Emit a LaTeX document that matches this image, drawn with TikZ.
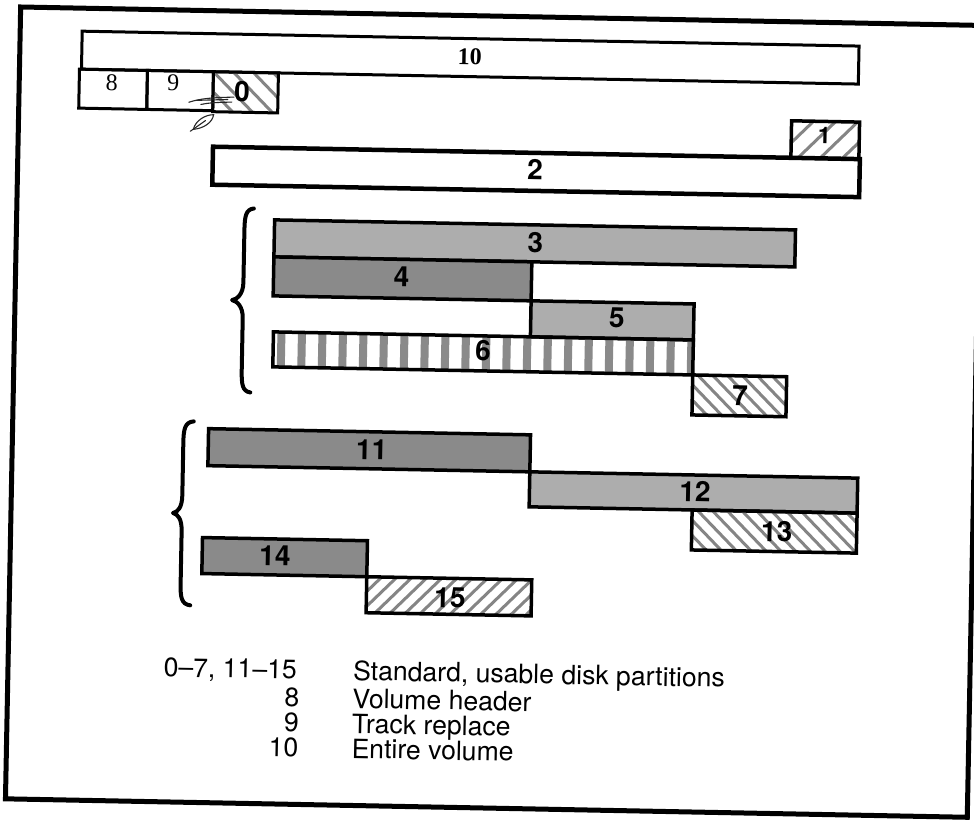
\documentclass[tikz,border=0pt]{standalone}
\usepackage{fontspec}
\newfontfamily\helv{TeX Gyre Heros}
\newfontfamily\tms{Liberation Serif}
\definecolor{lightdot}{gray}{0.68}
\definecolor{darkdot}{gray}{0.54}
\definecolor{hatchc}{gray}{0.52}
\newcommand{\hatchbs}[5]{%
  \begin{scope}
    \clip (#1,#2) rectangle (#3,#4);
    \foreach \i in {0,...,45}{
      \draw[hatchl] ({#1-(#4-#2)+\i*#5},#2) -- ++({#4-#2},{#4-#2});
    }
  \end{scope}}
\newcommand{\hatchsl}[5]{%
  \begin{scope}
    \clip (#1,#2) rectangle (#3,#4);
    \foreach \i in {0,...,45}{
      \draw[hatchl] ({#1-(#4-#2)+\i*#5},#4) -- ++({#4-#2},{#2-#4});
    }
  \end{scope}}
\newcommand{\bigbrace}[6]{%
  \draw[bracestyle] (#1,#4) .. controls ({#2+1},{#4+1}) and (#2,{#4+8}) .. (#2,{#4+22})
    -- (#2,{#5-18}) .. controls (#2,{#5-6}) and ({#3+5},{#5-1}) .. (#3,#5)
    .. controls ({#3+5},{#5+1}) and (#2,{#5+6}) .. (#2,{#5+18})
    -- (#2,{#6-22}) .. controls (#2,{#6-8}) and ({#2+1},{#6-1}) .. (#1,#6);}
\begin{document}
\begin{tikzpicture}[x=1pt,y=-1pt,
  barline/.style={draw=black, line width=3.5pt},
  thinbar/.style={draw=black, line width=3pt},
  lab/.style={font=\helv\bfseries\fontsize{28}{28}\selectfont, inner sep=0pt, transform shape},
  slab/.style={font=\tms\fontsize{24}{24}\selectfont, inner sep=0pt, transform shape},
  slabb/.style={font=\tms\bfseries\fontsize{24}{24}\selectfont, inner sep=0pt, transform shape},
  leg/.style={font=\helv\fontsize{26.6}{26.6}\selectfont, inner sep=0pt, transform shape},
  hatchl/.style={draw=hatchc, line width=3pt},
  scrib/.style={draw=black!85, line width=1.1pt, line cap=round},
  bracestyle/.style={draw=black, line width=4pt, line cap=round, line join=round}]
\useasboundingbox (0,0) rectangle (974,819);
\fill[white] (0,0) rectangle (974,819);
\begin{scope}[rotate around={-1.1:(487,410)}]
% frame
\draw[line width=5pt] (13,16) rectangle (975,808);
% bar 10
\draw[thinbar] (75,39) rectangle (852,77);
\node[slabb] (l10) at (463,57.5) {10};
% 8, 9, 0
\draw[thinbar] (73,77) rectangle (141,116);
\node[slab] (l8) at (105.5,90) {8};
\draw[thinbar] (141,77) rectangle (207,116);
\node[slab] (l9) at (167,89) {9};
\hatchbs{207}{77}{272}{117}{20}
\draw[thinbar] (207,77) rectangle (272,117);
\node[lab] (l0) at (236,96) {0};
% scribble
\draw[scrib] (183,108) .. controls (195,104) and (205,103) .. (228,102);
\draw[scrib] (190,106) -- (222,104.5);
\draw[scrib] (195,110) .. controls (205,108) .. (226,107);
\draw[scrib] (188,135) .. controls (190,126) and (200,120) .. (208,120) .. controls (207,128) and (198,134) .. (188,135);
\draw[scrib] (185,137) -- (200,126);
% bar 1
\hatchsl{786}{115}{854}{152}{22}
\draw[barline] (786,115) rectangle (854,152);
\node[lab,font=\helv\bfseries\fontsize{23}{23}\selectfont] (l1) at (819,129.5) {1};
% bar 2
\draw[line width=4.5pt] (208,152) rectangle (855,190);
\node[lab] (l2) at (530.5,169) {2};
% brace 1
\bigbrace{250}{241}{230}{213}{305}{397}
% bar 3
\fill[lightdot] (271,224) rectangle (792,261);
\draw[barline] (271,224) rectangle (792,261);
\node[lab] (l3) at (532,241.6) {3};
% bar 4
\fill[darkdot] (271,261) rectangle (529,300);
\draw[barline] (271,261) rectangle (529,300);
\node[lab] (l4) at (399,278.6) {4};
% bar 5
\fill[lightdot] (529,300) rectangle (692,336);
\draw[barline] (529,300) rectangle (692,336);
\node[lab] (l5) at (615,315.5) {5};
% bar 6
\begin{scope}
  \clip (272,336) rectangle (692,371);
  \foreach \i in {0,...,21}{ \fill[darkdot] ({276+\i*20.5},336) rectangle ++(8,35); }
\end{scope}
\draw[barline] (272,336) rectangle (692,371);
\node[lab] (l6) at (482,351) {6};
% bar 7
\hatchbs{692}{371}{786}{411}{15}
\draw[barline] (692,371) rectangle (786,411);
\node[lab] (l7) at (739.7,391) {7};
% brace 2
\bigbrace{194}{184}{175}{427}{519}{611}
% bar 11
\fill[darkdot] (209,434) rectangle (531,471);
\draw[barline] (209,434) rectangle (531,471);
\node[lab] (l11) at (372.5,452) {11};
% bar 12
\fill[lightdot] (531,471) rectangle (859,506);
\draw[barline] (531,471) rectangle (859,506);
\node[lab] (l12) at (696.6,487.7) {12};
% bar 13
\hatchbs{694}{506}{859}{546}{15}
\draw[barline] (694,506) rectangle (859,546);
\node[lab] (l13) at (779,526) {13};
% bar 14
\fill[darkdot] (205,543) rectangle (370,579);
\draw[barline] (205,543) rectangle (370,579);
\node[lab] (l14) at (277.8,560) {14};
% bar 15
\hatchsl{370}{579}{535}{615}{15}
\draw[barline] (370,579) rectangle (535,615);
\node[lab] (l15) at (453.6,598.7) {15};
% legend
\node[leg, anchor=base east] (k1) at (302,682.6) {0–7, 11–15};
\node[leg, anchor=base west] (d1) at (358,682.6) {Standard, usable disk partitions};
\node[leg, anchor=base east] (k2) at (305,710.6) {8};
\node[leg, anchor=base west] (d2) at (358,710.6) {Volume header};
\node[leg, anchor=base east] (k3) at (305,735.6) {9};
\node[leg, anchor=base west] (d3) at (358,735.6) {Track replace};
\node[leg, anchor=base east] (k4) at (305,760.6) {10};
\node[leg, anchor=base west] (d4) at (358,760.6) {Entire volume};
\end{scope}
\end{tikzpicture}
\end{document}
